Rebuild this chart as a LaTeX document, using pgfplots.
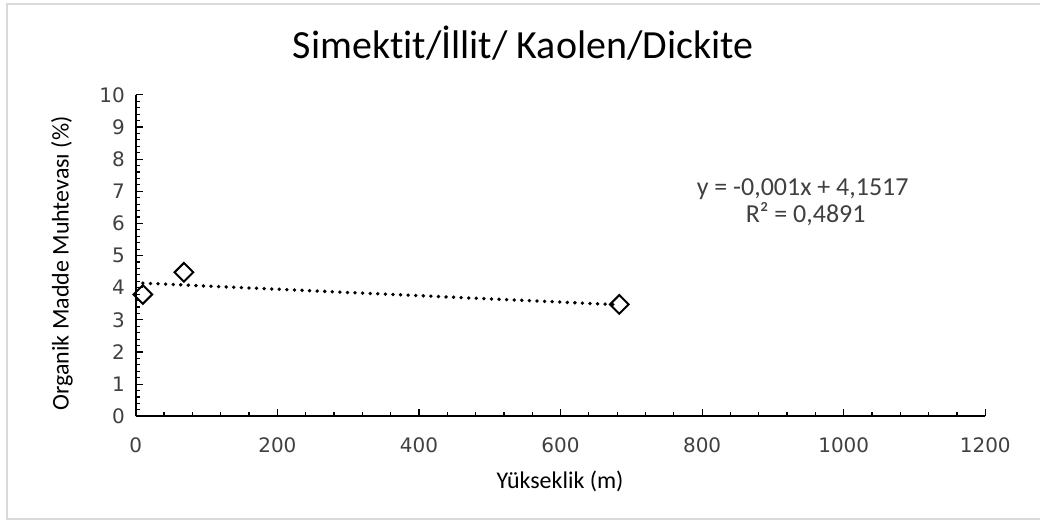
\documentclass[border=0pt]{standalone}
\usepackage{pgfplots}
\pgfplotsset{compat=1.18}
\usepackage{fontspec}
\setmainfont{Carlito}[Ligatures={NoCommon,NoRequired,NoContextual}]
\newfontfamily\tickfont{DejaVu Sans}
\definecolor{txt}{HTML}{404040}
\definecolor{frame}{HTML}{D9D9D9}

\begin{document}
\begin{tikzpicture}[x=1pt,y=1pt]
% page area (1 px = 0.5 pt)
\path[fill=white] (0,0) rectangle (520.5,261);
\draw[frame, line width=0.8pt] (521,1) -- (3.5,1) -- (3.5,259) -- (521,259);

\begin{axis}[
    at={(68pt,52.5pt)}, anchor=south west,
    scale only axis,
    width=425.5pt, height=161pt,
    xmin=0, xmax=1200, ymin=0, ymax=10,
    xtick={0,200,...,1200}, ytick={0,1,...,10},
    minor x tick num=4, minor y tick num=4,
    axis lines=left,
    axis line style={-, black, line width=1pt},
    tick style={black, line width=0.6pt},
    major tick length=3.5pt, minor tick length=2.2pt,
    tick align=inside,
    ticklabel style={font=\tickfont\fontsize{10}{12}\selectfont, text=txt},
    /pgf/number format/assume math mode=true,
    /pgf/number format/1000 sep={},
    xticklabel style={yshift=-7pt},
    yticklabel style={xshift=-2pt},
    clip=false,
]
% trendline y = -0.001x + 4.1517
\addplot[black, line width=1.9pt, dash pattern=on 0pt off 3.8pt, line cap=round]
  coordinates {(10,4.142) (683,3.469)};
\addplot[only marks, mark=square, mark size=3.3pt,
  mark options={rotate=45, black, line width=1pt, fill=white}]
  coordinates {(10,3.79) (68,4.48) (683,3.48)};
\end{axis}

\node[font=\fontsize{20}{24}\selectfont, text=black] at (262,239.5) {Simektit/İllit/ Kaolen/Dickite};
\node[font=\fontsize{12}{14}\selectfont, text=black, rotate=90] at (31,129) {Organik Madde Muhtevası (\%)};
\node[font=\fontsize{12}{14}\selectfont, text=black] at (280.5,20) {Yükseklik (m)};
\node[font=\fontsize{13}{15}\selectfont, text=txt] at (402,166) {y = -0,001x + 4,1517};
\node[font=\fontsize{13}{15}\selectfont, text=txt] at (403.5,153.5) {R² = 0,4891};
\end{tikzpicture}
\end{document}
